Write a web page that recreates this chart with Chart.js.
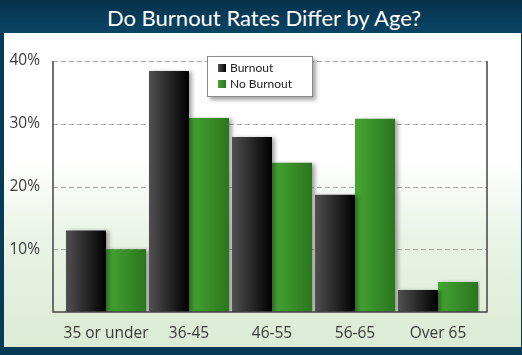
<!DOCTYPE html>
<html>
<head>
<meta charset="utf-8">
<script src="https://cdn.jsdelivr.net/npm/chart.js@4"></script>
<style>
  html, body { margin: 0; padding: 0; }
  body { width: 522px; height: 355px; overflow: hidden; background: #063b57; font-family: "Lato", "Open Sans", sans-serif; }
  #frame { position: absolute; left: 0; top: 0; width: 522px; height: 355px; background: #063b57; }
  #header { position: absolute; left: 0; top: 0; width: 516px; padding-left: 6px; height: 33px;
    background: linear-gradient(#06314a, #0a4564); color: #fff; text-align: center;
    font-size: 22px; line-height: 35px; }
  #inner { position: absolute; left: 4px; top: 33px; width: 517px; height: 314px;
    background: linear-gradient(#ffffff 0%, #ffffff 40%, #eaf4e6 65%, #dbebd4 100%); }
  #chartBox { position: absolute; left: 0; top: 0; width: 517px; height: 314px; }
  #legend { position: absolute; left: 203px; top: 23px; width: 104px; height: 39px;
    background: #fff; border: 1px solid #8a8a8a; box-shadow: 3px 3px 4px rgba(0,0,0,0.35);
    font-size: 12px; color: #222; }
  .item { position: absolute; left: 10px; height: 14px; line-height: 14px; }
  .sw { display: inline-block; width: 8px; height: 8px; margin-right: 4px; vertical-align: 0px; }
</style>
</head>
<body>
<div id="frame"></div>
<div id="header">Do Burnout Rates Differ by Age?</div>
<div id="inner">
  <div id="chartBox"><canvas id="burnoutChart"></canvas></div>
  <div id="legend"></div>
</div>
<script>
const ageGroups = ["35 or under", "36-45", "46-55", "56-65", "Over 65"];
const burnout = [13, 38.4, 27.9, 18.7, 3.5];
const noBurnout = [10, 30.9, 23.8, 30.8, 4.8];
const seriesNames = ["Burnout", "No Burnout"];
const yTicks = [0, 10, 20, 30, 40];

const CAT_PCT = 0.964;
const GAP_LEFT = 11.5;   // axis line sits left of the first category
const GAP_RIGHT = 7.5;   // right frame line past the last category
const blackStops = ["#505050", "#000000"];
const greenStops = ["#46a534", "#2a761d"];
const axisFont = { family: "Open Sans", size: 15.5 };

// horizontal gradient across each bar, computed from the x scale
function barFill(stops, side) {
  return (c) => {
    const chart = c.chart;
    const xs = chart.scales.x;
    if (!xs || c.dataIndex === undefined) return stops[0];
    const center = xs.getPixelForValue(c.dataIndex);
    const barW = (xs.width / ageGroups.length) * CAT_PCT / 2;
    if (!isFinite(center) || !isFinite(barW) || barW <= 0) return stops[0];
    const left = side === 0 ? center - barW : center;
    const g = chart.ctx.createLinearGradient(left, 0, left + barW, 0);
    g.addColorStop(0, stops[0]);
    g.addColorStop(1, stops[1]);
    return g;
  };
}

const framePlugin = {
  id: "frame",
  beforeDatasetsDraw(chart) {
    const { ctx, chartArea, scales } = chart;
    const x0 = chartArea.left - GAP_LEFT;
    const x1 = chartArea.right + GAP_RIGHT;
    ctx.save();
    ctx.strokeStyle = "#a8a8a8";
    ctx.lineWidth = 1;
    ctx.setLineDash([5, 3]);
    yTicks.forEach((v) => {
      if (v === 0) return;
      const y = Math.round(scales.y.getPixelForValue(v)) + 0.5;
      ctx.beginPath();
      ctx.moveTo(x0, y);
      ctx.lineTo(x1, y);
      ctx.stroke();
    });
    ctx.restore();
    ctx.save();
    ctx.shadowColor = "rgba(0,0,0,0.35)";
    ctx.shadowBlur = 4;
    ctx.shadowOffsetX = 3;
    ctx.shadowOffsetY = 1;
  },
  afterDatasetsDraw(chart) {
    const { ctx, chartArea, scales } = chart;
    ctx.restore();
    const x0 = chartArea.left - GAP_LEFT;
    const x1 = chartArea.right + GAP_RIGHT;
    const top = scales.y.getPixelForValue(yTicks[yTicks.length - 1]);
    const bottom = scales.y.getPixelForValue(0);
    ctx.save();
    ctx.strokeStyle = "#444";
    ctx.lineWidth = 1.5;
    ctx.beginPath();
    ctx.moveTo(x0, top);
    ctx.lineTo(x0, bottom);
    ctx.lineTo(x1, bottom);
    ctx.lineTo(x1, top);
    ctx.stroke();
    ctx.restore();
  }
};

// legend
const legendEl = document.getElementById("legend");
[blackStops, greenStops].forEach((stops, i) => {
  const row = document.createElement("div");
  row.className = "item";
  row.style.top = (4 + i * 16) + "px";
  row.innerHTML = `<span class="sw" style="background:linear-gradient(90deg,${stops[0]},${stops[1]})"></span>${seriesNames[i]}`;
  legendEl.appendChild(row);
});

new Chart(document.getElementById("burnoutChart"), {
  type: "bar",
  data: {
    labels: ageGroups,
    datasets: [
      { label: seriesNames[0], data: burnout, backgroundColor: barFill(blackStops, 0), borderWidth: 0 },
      { label: seriesNames[1], data: noBurnout, backgroundColor: barFill(greenStops, 1), borderWidth: 0 }
    ]
  },
  options: {
    responsive: true,
    maintainAspectRatio: false,
    animation: false,
    layout: { padding: { top: 28, right: 41.5, left: 0, bottom: 0 } },
    datasets: { bar: { categoryPercentage: CAT_PCT, barPercentage: 1 } },
    plugins: { legend: { display: false }, tooltip: { enabled: false } },
    scales: {
      x: {
        grid: { display: false },
        border: { display: false },
        ticks: { color: "#3a3a3a", font: axisFont, padding: 4, maxRotation: 0, minRotation: 0, autoSkip: false },
        afterFit: (s) => { s.height = 35; }
      },
      y: {
        min: yTicks[0],
        max: yTicks[yTicks.length - 1],
        afterBuildTicks: (s) => { s.ticks = yTicks.map((v) => ({ value: v })); },
        ticks: {
          color: "#3a3a3a",
          font: axisFont,
          padding: 16.5,
          callback: (v) => (v === 0 ? "" : v + "%")
        },
        grid: { display: false },
        border: { display: false },
        afterFit: (s) => { s.width = 60.5; }
      }
    }
  },
  plugins: [framePlugin]
});
</script>
</body>
</html>
